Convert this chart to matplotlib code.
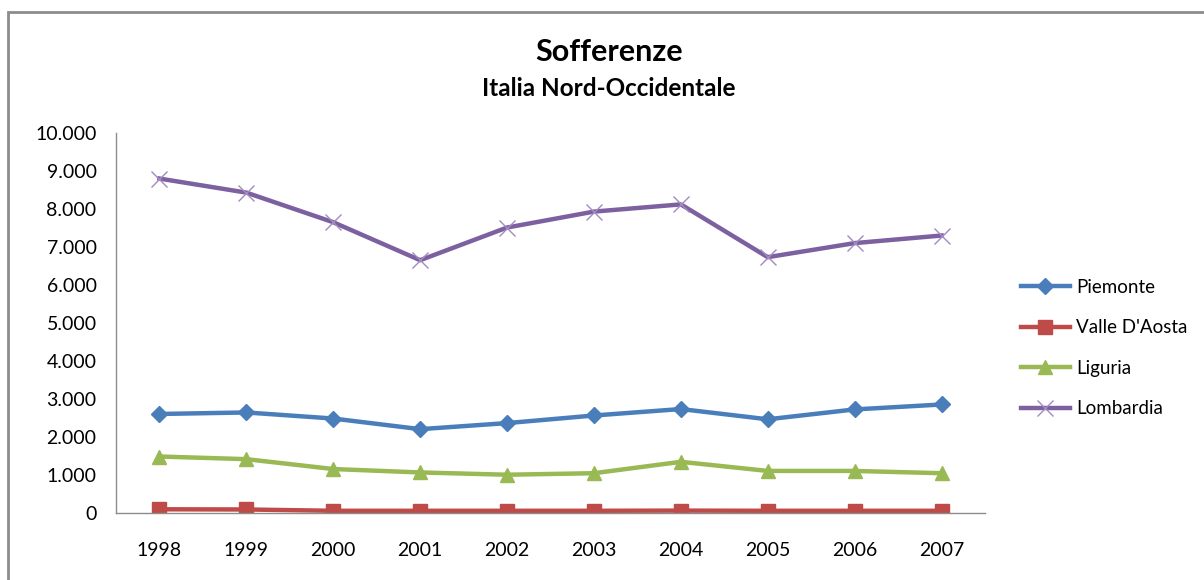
import matplotlib.pyplot as plt
from matplotlib.patches import Rectangle

# Dati (sofferenze, Italia Nord-Occidentale)
anni = ["1998", "1999", "2000", "2001", "2002", "2003", "2004", "2005", "2006", "2007"]
piemonte = [2600, 2640, 2480, 2200, 2360, 2560, 2730, 2460, 2720, 2850]
valle_aosta = [90, 85, 50, 50, 50, 50, 55, 50, 50, 50]
liguria = [1480, 1410, 1150, 1060, 1000, 1040, 1340, 1100, 1100, 1040]
lombardia = [8800, 8430, 7650, 6650, 7510, 7930, 8120, 6730, 7100, 7300]

y_ticks = [0, 1000, 2000, 3000, 4000, 5000, 6000, 7000, 8000, 9000, 10000]
y_labels = ["0", "1.000", "2.000", "3.000", "4.000", "5.000",
            "6.000", "7.000", "8.000", "9.000", "10.000"]

plt.rcParams['font.family'] = ['Lato', 'DejaVu Sans']

fig = plt.figure(figsize=(12.04, 5.8), dpi=100)
ax = fig.add_axes([116 / 1204, 1 - 512.7 / 580, (985 - 116) / 1204, (512.7 - 133) / 580])

# bordo grigio del grafico
fig.patches.append(Rectangle((8 / 1204, -0.02), 1.1, 1 - 12 / 580 + 0.02,
                             transform=fig.transFigure, fill=False,
                             edgecolor='#8c8c8c', linewidth=2))

x = list(range(len(anni)))
ax.plot(x, piemonte, color='#4a7ebb', lw=3.2, marker='D', ms=8, label="Piemonte")
ax.plot(x, valle_aosta, color='#be4b48', lw=3.2, marker='s', ms=10, label="Valle D'Aosta")
ax.plot(x, liguria, color='#98b954', lw=3.2, marker='^', ms=10, label="Liguria")
ax.plot(x, lombardia, color='#7d60a0', lw=3.2, marker='x', ms=11, mew=1,
        markeredgecolor='#a08cc0', label="Lombardia")

ax.set_xlim(-0.5, len(anni) - 0.5)
ax.set_ylim(0, 10000)
ax.set_xticks(x)
ax.set_xticklabels(anni, fontsize=14)
ax.set_yticks(y_ticks)
ax.set_yticklabels(y_labels, fontsize=14)
ax.tick_params(length=0, pad=21, axis='x')
ax.tick_params(length=0, pad=14, axis='y')

for s in ['top', 'right']:
    ax.spines[s].set_visible(False)
for s in ['left', 'bottom']:
    ax.spines[s].set_color('#8c8c8c')
    ax.spines[s].set_linewidth(1)

cx = 609 / 1204
fig.text(cx, 1 - 52 / 580, "Sofferenze", ha='center', va='center',
         fontsize=22, fontweight='bold')
fig.text(cx, 1 - 88 / 580, "Italia Nord-Occidentale", ha='center',
         va='center', fontsize=17.5, fontweight='bold')

fig.legend(loc='upper left', bbox_to_anchor=(1004 / 1204, 1 - 262 / 580), frameon=False,
           fontsize=13.5, handlelength=2.6, labelspacing=1.25, handletextpad=0.35)

fig.savefig("out.png", dpi=100)
